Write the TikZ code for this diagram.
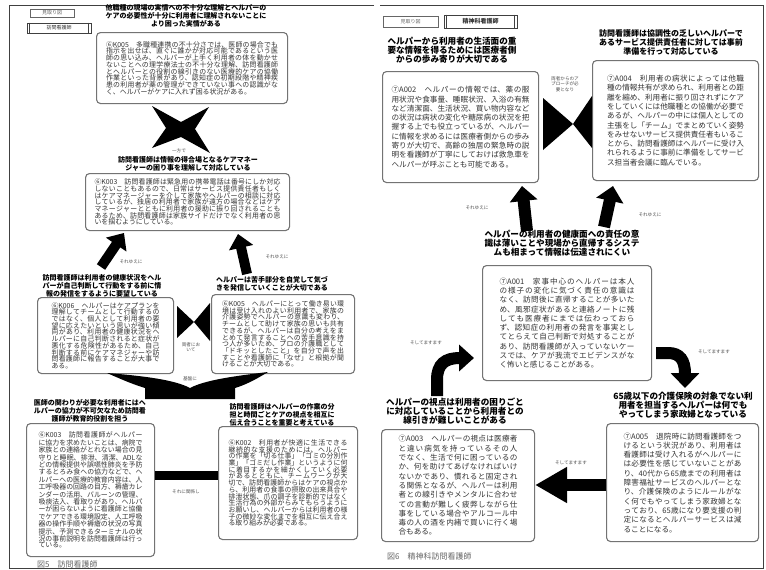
\documentclass[tikz,border=0pt]{standalone}
\usepackage{fontspec}
\setmainfont{Noto Sans CJK JP}
\usetikzlibrary{arrows.meta}
\XeTeXlinebreaklocale "ja"
\XeTeXlinebreakskip=0pt plus 0.6pt
\tikzset{
 bx/.style={draw=black!55, line width=1.1pt, rounded corners=4pt, fill=white, text=black!80, align=justify, anchor=north west, inner xsep=0pt, inner ysep=2pt},
 bxL/.style={bx, font=\fontsize{6.9}{6.7}\selectfont},
 bxR/.style={bx, font=\fontsize{7.6}{9.3}\selectfont},
 hdL/.style={align=center, inner sep=0pt, font=\bfseries\fontsize{7}{7.8}\selectfont},
 hdR/.style={align=center, inner sep=0pt, font=\bfseries\fontsize{8.6}{9}\selectfont},
 lbl/.style={align=center, inner sep=0pt, text=black!70, font=\fontsize{4.6}{5.6}\selectfont},
 figcap/.style={anchor=west, inner sep=0pt, text=black!60, font=\fontsize{8}{8}\selectfont},
 tagbox/.style={draw=black!60, line width=0.6pt, inner sep=0pt, text=black!60, font=\fontsize{5}{5}\selectfont},
 blk/.style={line width=10pt, -{Triangle[width=24pt,length=14pt]}},
 blkR/.style={line width=12pt, -{Triangle[width=27pt,length=15pt]}},
}
\begin{document}
\begin{tikzpicture}[x=1pt,y=-1pt]
\useasboundingbox (0,0) rectangle (766,570);
% frames
\draw[line width=1pt, black!75] (374,5) -- (9,5) -- (9,568) -- (763,568) -- (763,5) -- (380,5);

%% ===== Figure 5 =====
\node[tagbox, minimum width=44pt, minimum height=8pt] (mt5) at (52,13) {見取り図};
\node[tagbox, draw=black!75, text=black!80, minimum width=64pt, minimum height=10pt] (role5) at (59,28) {訪問看護師};
\draw[black!75, line width=0.6pt] ([xshift=3pt]role5.north west) -- ([xshift=3pt]role5.south west)
  ([xshift=-3pt]role5.north east) -- ([xshift=-3pt]role5.south east);

\node[hdL] (h1) at (186,16) {他職種の現場の実情への不十分な理解とヘルパーの\\ケアの必要性が十分に利用者に理解されないことに\\より困った実情がある};
\node[bxL, minimum width=191pt, minimum height=71pt, text width=172pt] (b1) at (96,32) {⑥K005　多職種連携の不十分さでは、医師の場合でも指示を出せば、直ぐに誰かが対応可能であるという医師の思い込み、ヘルパーが上手く利用者の体を動かせないことへの理学療法士の不十分な理解、訪問看護師とヘルパーとの役割の線引きのない医療的ケアの協働作業といった背景があり、認知症の初期段階や精神疾患の利用者が薬の管理ができていない事への認識がなく、ヘルパーがケアに入れず困る状況がある。};

% X star
\fill (152,106) -- (181,122) -- (209,107) -- (195,129) -- (210,153) -- (181,137) -- (152,148) -- (166,128) -- cycle;
\node[lbl] (l1) at (179,151) {一方で};

\node[hdL] (h2) at (188,164) {訪問看護師は情報の得合場となるケアマネー\\ジャーの困り事を理解して対応している};
\node[bxL, minimum width=204pt, minimum height=57pt, text width=186pt] (b2) at (85,173) {⑥K003　訪問看護師は緊急用の携帯電話は番号にしか対応しないこともあるので、日常はサービス提供責任者もしくはケアマネージャーを介して家族やヘルパーの相談に対応しているが、独居の利用者で家族が遠方の場合などはケアマネージャーとともに利用者の援助に振り回されることもあるため、訪問看護師は家族サイドだけでなく利用者の思いを掴むようにしている。};

% arrows up
\coordinate (a1s) at (101,267);
\coordinate (a1e) at (124,233);
\draw[blk] (a1s) -- (a1e);
\node[lbl] (l2) at (131,262) {それゆえに};
\coordinate (a2s) at (247,274);
\coordinate (a2e) at (238,234);
\draw[blk] (a2s) -- (a2e);
\node[lbl] (l3) at (277,257) {それゆえに};

\node[hdL] (h3) at (102,286) {訪問看護師は利用者の健康状況をヘル\\パーが自己判断して行動をする前に情\\報の発信をするように要望している};
\node[bxL, minimum width=136pt, minimum height=76pt, text width=108pt] (b3) at (37,297) {⑥K006　ヘルパーはケアプランを理解してチームとして行動するのではなく、個人として利用者の要望に応えたいという思いが強い傾向があり、利用者の健康状況をヘルパーに自己判断されると症状が悪化する危険性があるため、自己判断する前にケアマネジャーや訪問看護師に報告することが大事である。};

\node[hdL] (h4) at (272,284) {ヘルパーは苦手部分を自覚して気づ\\きを発信していくことが大切である};
\node[bxL, minimum width=143pt, minimum height=79pt, text width=122pt] (b4) at (211,294) {⑥K005　ヘルパーにとって働き易い環境は受け入れのよい利用者で、家族の介護姿勢でヘルパーの意識も変わり、チームとして助けて家族の思いも共有できるが、ヘルパーは自分の考えをまとめて発言することへの苦手意識を持つ人が多いため、プロの介護職として「ドキッとしたこと」を自分で声を出すことや看護師に「なぜ」と根拠が聞けることが大切である。};

% bowtie
\fill (177,306) -- (177,338) -- (194,322) -- cycle;
\fill (210,303) -- (210,341) -- (194,322) -- cycle;
\node[lbl] (l4) at (191,347) {両者にお\\いて};

% base wedge
\node[lbl] (l5) at (190,379) {基盤に};
\fill (107,373) .. controls (125,381) and (135,385) .. (145,388) -- (145,399) -- (235,399) -- (235,388)
   .. controls (245,385) and (255,380) .. (268,372)
   .. controls (235,376) and (205,380) .. (190,388)
   .. controls (175,380) and (145,376) .. (107,373) -- cycle;

\node[hdL] (h5) at (90,411) {医師の関わりが必要な利用者にはヘ\\ルパーの協力が不可欠なため訪問看\\護師が教育的役割を担う};
\node[bxL, font=\fontsize{6.9}{6.2}\selectfont, minimum width=128pt, minimum height=133pt, text width=104pt] (b5) at (26,423) {⑥K003　訪問看護師がヘルパーに協力を求めたいことは、病院で家族との連絡がとれない場合の見守りと睡眠、排泄、清潔、ADLなどの情報提供や誤嚥性肺炎を予防するとろみ食への協力などで、ヘルパーへの医療的教育内容は、人工呼吸器の回路の目方、褥瘡カレンダーの活用、バルーンの管理、吸痰法入、看取りがあり、ヘルパーが困らないように看護師と協働でケアできる環境設定、人工呼吸器の操作手順や褥瘡の状況の写真提示、予測できるターミナルの状況の事前説明を訪問看護師は行っている。};

\node[hdL] (h6) at (282,415) {訪問看護師はヘルパーの作業の分\\担と時間ごとケアの視点を相互に\\伝え合うことを重要と考えている};
\node[bxL, minimum width=139pt, minimum height=113pt, text width=119pt] (b6) at (218,426) {⑥K002　利用者が快適に生活できる継続的な支援のためには、ヘルパーの作業を「切る仕事」「ゴミの分別作業」「ゴミだし作業」というように何に着目するかを細かくしていく必要があるとともに、チームワークが大切で、訪問看護師からはケアの視点から、利用者の食事の摂取の出来具合や排泄状態、爪の調子を診断的ではなく生活行為の外部からみてもらうようにお願いし、ヘルパーからは利用者の様子の微妙な変化までを相互に伝え合える取り組みが必要である。};

% bar between b5 and b6
\fill (b5.east |- 0,471) rectangle (b6.west |- 0,480);
\node[lbl] (l6) at (186,492) {それに関係し};

\node[figcap] (c5) at (37,564) {図5　訪問看護師};

%% ===== Figure 6 =====
\node[tagbox, minimum width=55pt, minimum height=11pt] (mt6) at (410.5,21.5) {見取り図};
\node[tagbox, draw=black!75, text=black!80, minimum width=73pt, minimum height=13pt, font=\bfseries\fontsize{6}{6}\selectfont] (role6) at (480.5,21.5) {精神科看護師};
\draw[black!75, line width=0.6pt] ([xshift=3pt]role6.north west) -- ([xshift=3pt]role6.south west)
  ([xshift=-3pt]role6.north east) -- ([xshift=-3pt]role6.south east);

\node[hdR] (h7) at (452,50) {ヘルパーから利用者の生活面の重\\要な情報を得るためには医療者側\\からの歩み寄りが大切である};
\node[bxR, minimum width=156pt, minimum height=111pt, text width=138pt] (b7) at (382,71) {⑦A002　ヘルパーの情報では、薬の服用状況や食事量、睡眠状況、入浴の有無など清潔面、生活状況、買い物内容などの状況は病状の変化や糖尿病の状況を把握する上でも役立っているが、ヘルパーに情報を求めるには医療者側からの歩み寄りが大切で、高齢の独居の緊急時の説明を看護師が丁寧にしておけば救急車をヘルパーが呼ぶことも可能である。};

\node[hdR, font=\bfseries\fontsize{8}{9}\selectfont] (h8) at (671,42) {訪問看護師は協調性の乏しいヘルパーで\\あるサービス提供責任者に対しては事前\\準備を行って対応している};
\node[bxR, minimum width=166pt, minimum height=120pt, text width=137pt] (b8) at (592,60) {⑦A004　利用者の病状によっては他職種の情報共有が求められ、利用者との距離を縮め、利用者に振り回されずにケアをしていくには他職種との協働が必要であるが、ヘルパーの中には個人としての主張をし「チーム」でまとめていく姿勢をみせないサービス提供責任者もいることから、訪問看護師はヘルパーに受け入れられるように事前に準備をしてサービス担当者会議に臨んでいる。};

% bowtie right
\fill (543,98) -- (543,150) -- (573,124) -- cycle;
\fill (592,96) -- (592,148) -- (573,124) -- cycle;
\node[lbl] (l7) at (565,84) {両者からのア\\プローチが必\\要となり};

% arrows up
\coordinate (a3s) at (527,231);
\coordinate (a3e) at (522,186);
\draw[blkR] (a3s) -- (a3e);
\node[lbl] (l8) at (477,208) {それゆえに};
\coordinate (a4s) at (604,227);
\coordinate (a4e) at (613,186);
\draw[blkR] (a4s) -- (a4e);
\node[lbl] (l9) at (650,215) {それゆえに};

\node[hdR] (h9) at (562,243) {ヘルパーの利用者の健康面への責任の意\\識は薄いことや現場から直帰するシステ\\ムも相まって情報は伝達されにくい};
\node[bxR, minimum width=169pt, minimum height=115pt, text width=135pt] (b9) at (482,265) {⑦A001　家事中心のヘルパーは本人の様子の変化に気づく責任の意識はなく、訪問後に直帰することが多いため、風邪症状があると連絡ノートに残しても医療者にまでは伝わっておらず、認知症の利用者の発言を事実としてとらえて自己判断で対処することがあり、訪問看護師が入っていないケースでは、ケアが我流でエビデンスがなく怖いと感じることがある。};

% curved arrows
\coordinate (a5s) at (437,396);
\coordinate (a5e) at (474,358);
\draw[line width=12pt, -{Triangle[width=26pt,length=15pt]}] (a5s) -- (437,380) .. controls (437,364) and (445,358) .. (a5e);
\node[lbl] (l10) at (426,343) {そしてますます};
\coordinate (a6s) at (656,353);
\coordinate (a6e) at (685,388);
\draw[line width=12pt, -{Triangle[width=28pt,length=15pt]}] (a6s) -- (668,353) .. controls (680,353) and (685,360) .. (a6e);
\node[lbl] (l11) at (714,352) {そしてますます};

\node[hdR] (h10) at (683,405) {65歳以下の介護保険の対象でない利\\用者を担当するヘルパーは何でも\\やってしまう家政婦となっている};
\node[bxR, minimum width=152pt, minimum height=118pt, text width=118pt] (b10) at (606,423) {⑦A005　退院時に訪問看護師をつけるという状況があり、利用者は看護師は受け入れるがヘルパーには必要性を感じていないことがあり、40代から65歳までの利用者は障害福祉サービスのヘルパーとなり、介護保険のようにルールがなく何でもやってしまう家政婦となっており、65歳になり要支援の判定になるとヘルパーサービスは減ることになる。};

\node[hdR] (h11) at (455,411) {ヘルパーの視点は利用者の困りごと\\に対応していることから利用者との\\線引きが難しいことがある};
\node[bxR, minimum width=153pt, minimum height=112pt, text width=119pt] (b11) at (381,429) {⑦A003　ヘルパーの視点は医療者と違い病気を持っているその人でなく、生活で何に困っているのか、何を助けてあげなければいけないかであり、慣れると固定される関係となるが、ヘルパーは利用者との線引きやメンタルに合わせての言動が難しく疲弊しながら仕事をしている場合やアルコール中毒の人の酒を内緒で買いに行く場合もある。};

% left arrow
\draw[line width=12pt, -{Triangle[width=34pt,length=32pt]}] (b10.west |- 0,485) -- (b11.east |- 0,485);
\node[lbl] (l12) at (571,463) {そしてますます};

\node[figcap] (c6) at (387,556) {図6　精神科訪問看護師};
\end{tikzpicture}
\end{document}
